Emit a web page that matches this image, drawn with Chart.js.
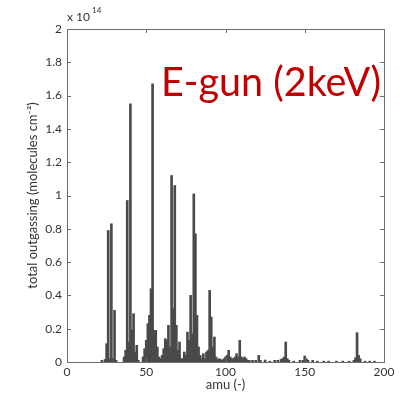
<!DOCTYPE html>
<html>
<head>
<meta charset="utf-8">
<script src="https://cdn.jsdelivr.net/npm/chart.js@4"></script>
<style>
  html, body { margin: 0; padding: 0; background: #fff; }
  #wrap { width: 400px; height: 396px; }
</style>
</head>
<body>
<div id="wrap"><canvas id="myChart" width="400" height="396"></canvas></div>
<script>
// mass numbers (amu) and total outgassing (x 1e14 molecules cm^-2)
const amu = [
    22, 24, 25, 26, 27, 28, 29, 30, 31,
    36, 37, 38, 39, 40, 41, 42, 43, 44, 45,
    48, 49, 50, 51, 52, 53, 54, 55, 56, 57, 58,
    59, 60, 61, 62, 63, 64, 65, 66, 67, 68, 69, 70, 71, 72,
    73, 74, 75, 76, 77, 78, 79, 80, 81, 82, 83, 84, 85, 86, 87,
    88, 89, 90, 91, 92, 93, 94, 95, 96, 97, 98, 99,
    100, 101, 102, 103, 104, 105, 106, 107, 108, 109, 110, 111, 112, 113, 114, 115,
    117, 119, 121, 122, 125, 128, 131, 133, 135, 136, 137, 138, 139, 140, 143,
    147, 149, 150, 151, 152, 155, 158, 162, 165, 170, 174, 178,
    181, 182, 183, 184, 185, 188, 191, 194
];
const outgassing = [
    0.01, 0.015, 0.11, 0.79, 0.02, 0.83, 0.02, 0.31, 0.01,
    0.03, 0.07, 0.97, 0.12, 1.55, 0.19, 0.29, 0.06, 0.10, 0.01,
    0.03, 0.08, 0.13, 0.23, 0.28, 0.44, 1.67, 0.19, 0.19, 0.09, 0.03,
    0.02, 0.04, 0.08, 0.14, 0.13, 0.22, 0.09, 1.12, 0.32, 1.06, 0.22, 0.07, 0.12, 0.02,
    0.02, 0.06, 0.04, 0.18, 0.13, 0.40, 0.17, 1.01, 0.77, 0.28, 0.09, 0.04, 0.02, 0.05, 0.02,
    0.06, 0.07, 0.43, 0.27, 0.09, 0.15, 0.03, 0.015, 0.02, 0.015, 0.01, 0.02,
    0.03, 0.04, 0.07, 0.03, 0.02, 0.02, 0.03, 0.05, 0.03, 0.13, 0.03, 0.02, 0.03, 0.02, 0.01, 0.01,
    0.01, 0.01, 0.04, 0.01, 0.012, 0.005, 0.01, 0.01, 0.015, 0.02, 0.03, 0.12, 0.02, 0.01, 0.005,
    0.01, 0.01, 0.036, 0.02, 0.01, 0.01, 0.005, 0.005, 0.005, 0.005, 0.005, 0.005,
    0.01, 0.025, 0.176, 0.04, 0.02, 0.005, 0.005, 0.005
];
const xTicks = [0, 50, 100, 150, 200];
const yTicks = [0, 0.2, 0.4, 0.6, 0.8, 1, 1.2, 1.4, 1.6, 1.8, 2];

const FONT = 'Lato, "Open Sans", sans-serif';
const AXIS = '#6e6e6e';
const TEXT = '#333';

// box + inward ticks, exponent, annotation
const decorPlugin = {
    id: 'decor',
    afterDraw(chart) {
        const ctx = chart.ctx;
        const a = chart.chartArea;
        const xs = chart.scales.x;
        const ys = chart.scales.y;
        ctx.save();
        ctx.strokeStyle = AXIS;
        ctx.lineWidth = 1;
        ctx.strokeRect(Math.round(a.left) + 0.5, Math.round(a.top) + 0.5,
            Math.round(a.right - a.left), Math.round(a.bottom - a.top));
        ctx.beginPath();
        xTicks.forEach((v) => {
            const px = Math.round(xs.getPixelForValue(v)) + 0.5;
            ctx.moveTo(px, a.bottom); ctx.lineTo(px, a.bottom - 4);
            ctx.moveTo(px, a.top); ctx.lineTo(px, a.top + 4);
        });
        yTicks.forEach((v) => {
            const py = Math.round(ys.getPixelForValue(v)) + 0.5;
            ctx.moveTo(a.left, py); ctx.lineTo(a.left + 4, py);
            ctx.moveTo(a.right, py); ctx.lineTo(a.right - 4, py);
        });
        ctx.stroke();

        // exponent label
        ctx.fillStyle = TEXT;
        ctx.textBaseline = 'alphabetic';
        ctx.textAlign = 'left';
        ctx.font = '12px ' + FONT;
        ctx.fillText('x 10', a.left, 21);
        ctx.font = '8px ' + FONT;
        ctx.fillText('14', a.left + 25, 13);

        // annotation
        ctx.fillStyle = '#c00000';
        ctx.font = '41px ' + FONT;
        ctx.fillText('E-gun (2keV)', 161, 96, 220);
        ctx.restore();
    }
};

const points = amu.map((m, i) => ({ x: m, y: outgassing[i] }));

new Chart(document.getElementById('myChart'), {
    type: 'bar',
    data: {
        datasets: [{
            label: 'total outgassing',
            data: points,
            backgroundColor: '#4a4a4a',
            borderWidth: 0,
            barThickness: 2
        }]
    },
    options: {
        responsive: false,
        animation: false,
        layout: { padding: { left: 0, top: 29, right: 16, bottom: 0 } },
        plugins: {
            legend: { display: false },
            tooltip: { enabled: false }
        },
        scales: {
            x: {
                type: 'linear',
                min: 0,
                max: 200,
                offset: false,
                grid: { display: false, drawTicks: false },
                border: { display: false },
                afterFit: (s) => { s.height = 34; },
                afterBuildTicks: (s) => { s.ticks = xTicks.map(v => ({ value: v })); },
                ticks: { color: TEXT, font: { family: FONT, size: 12 }, padding: 3, maxRotation: 0 },
                title: {
                    display: true,
                    text: 'amu (-)',
                    color: TEXT,
                    font: { family: FONT, size: 13 },
                    padding: { top: 0, bottom: 3 }
                }
            },
            y: {
                min: 0,
                max: 2,
                grid: { display: false, drawTicks: false },
                border: { display: false },
                afterFit: (s) => { s.width = 67; },
                afterBuildTicks: (s) => { s.ticks = yTicks.map(v => ({ value: v })); },
                ticks: {
                    color: TEXT,
                    font: { family: FONT, size: 12 },
                    padding: 5,
                    callback: (v) => String(+v.toFixed(1))
                },
                title: {
                    display: true,
                    text: 'total outgassing (molecules cm⁻²)',
                    color: TEXT,
                    font: { family: FONT, size: 13 },
                    padding: { top: 25, bottom: 0 }
                }
            }
        }
    },
    plugins: [decorPlugin]
});
</script>
</body>
</html>
